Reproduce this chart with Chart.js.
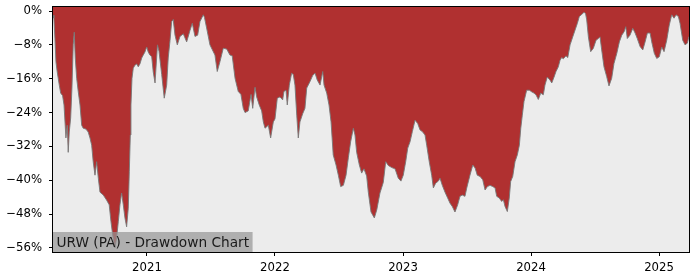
<!DOCTYPE html>
<html>
<head>
<meta charset="utf-8">
<script src="https://cdn.jsdelivr.net/npm/chart.js@4"></script>
<style>
  html, body { margin: 0; padding: 0; background: #fff; }
  canvas { display: block; }
</style>
</head>
<body>
<canvas id="ddChart" width="700" height="280"></canvas>
<script>
// dates as decimal years, drawdown in %
const dates = [
  2020.266, 2020.273, 2020.281, 2020.289, 2020.299, 2020.315, 2020.326, 2020.341, 2020.352, 2020.367,
  2020.377, 2020.385, 2020.393, 2020.404, 2020.414, 2020.424, 2020.432, 2020.440, 2020.451, 2020.463,
  2020.477, 2020.490, 2020.502, 2020.523, 2020.541, 2020.555, 2020.568, 2020.580, 2020.594, 2020.607,
  2020.620, 2020.633, 2020.659, 2020.685, 2020.705, 2020.719, 2020.732, 2020.750, 2020.763, 2020.776,
  2020.789, 2020.802, 2020.815, 2020.828, 2020.841, 2020.854, 2020.862, 2020.870, 2020.875, 2020.883,
  2020.893, 2020.906, 2020.920, 2020.932, 2020.945, 2020.959, 2020.971, 2020.984, 2020.998, 2021.010,
  2021.023, 2021.037, 2021.049, 2021.063, 2021.082, 2021.094, 2021.115, 2021.135, 2021.154, 2021.166,
  2021.180, 2021.193, 2021.205, 2021.219, 2021.237, 2021.258, 2021.284, 2021.310, 2021.336, 2021.354,
  2021.375, 2021.396, 2021.414, 2021.440, 2021.449, 2021.466, 2021.492, 2021.518, 2021.531, 2021.549,
  2021.570, 2021.596, 2021.623, 2021.648, 2021.666, 2021.688, 2021.713, 2021.734, 2021.752, 2021.766,
  2021.791, 2021.813, 2021.826, 2021.844, 2021.857, 2021.877, 2021.896, 2021.909, 2021.922, 2021.948,
  2021.966, 2021.987, 2022.000, 2022.018, 2022.039, 2022.060, 2022.070, 2022.086, 2022.096, 2022.112,
  2022.130, 2022.143, 2022.156, 2022.170, 2022.182, 2022.195, 2022.216, 2022.234, 2022.248, 2022.273,
  2022.295, 2022.313, 2022.330, 2022.352, 2022.373, 2022.383, 2022.404, 2022.422, 2022.438, 2022.455,
  2022.477, 2022.495, 2022.513, 2022.534, 2022.555, 2022.573, 2022.591, 2022.612, 2022.625, 2022.638,
  2022.659, 2022.677, 2022.695, 2022.716, 2022.729, 2022.750, 2022.776, 2022.795, 2022.820, 2022.846,
  2022.865, 2022.885, 2022.912, 2022.938, 2022.963, 2022.984, 2023.002, 2023.021, 2023.037, 2023.055,
  2023.073, 2023.094, 2023.115, 2023.133, 2023.151, 2023.172, 2023.185, 2023.205, 2023.224, 2023.237,
  2023.255, 2023.276, 2023.289, 2023.307, 2023.328, 2023.349, 2023.367, 2023.385, 2023.406, 2023.427,
  2023.445, 2023.463, 2023.484, 2023.498, 2023.523, 2023.545, 2023.563, 2023.580, 2023.602, 2023.623,
  2023.641, 2023.659, 2023.680, 2023.701, 2023.719, 2023.732, 2023.752, 2023.771, 2023.784, 2023.797,
  2023.815, 2023.830, 2023.841, 2023.857, 2023.875, 2023.893, 2023.909, 2023.920, 2023.932, 2023.945,
  2023.966, 2023.987, 2024.005, 2024.023, 2024.039, 2024.057, 2024.076, 2024.096, 2024.109, 2024.127,
  2024.148, 2024.162, 2024.180, 2024.195, 2024.213, 2024.227, 2024.240, 2024.252, 2024.273, 2024.287,
  2024.305, 2024.326, 2024.344, 2024.362, 2024.377, 2024.396, 2024.414, 2024.426, 2024.435, 2024.448,
  2024.466, 2024.487, 2024.508, 2024.526, 2024.539, 2024.552, 2024.570, 2024.591, 2024.609, 2024.630,
  2024.648, 2024.670, 2024.690, 2024.709, 2024.727, 2024.740, 2024.752, 2024.773, 2024.795, 2024.813,
  2024.830, 2024.852, 2024.873, 2024.891, 2024.909, 2024.930, 2024.943, 2024.963, 2024.982, 2025.002,
  2025.021, 2025.039, 2025.060, 2025.080, 2025.099, 2025.117, 2025.133, 2025.151, 2025.164, 2025.185,
  2025.203, 2025.221, 2025.234
];
const drawdown = [
  -1.0, -1.7, -6.4, -12.0, -14.4, -17.5, -19.4, -20.0, -22.2, -30.0,
  -27.0, -33.4, -28.6, -25.3, -18.2, -8.0, -5.0, -11.1, -15.9, -19.0,
  -22.2, -27.0, -27.7, -27.9, -28.6, -30.0, -31.7, -35.6, -38.8, -35.6,
  -39.5, -42.8, -43.5, -44.7, -45.8, -49.8, -52.9, -56.0, -53.6, -49.8,
  -45.8, -43.0, -45.8, -48.9, -51.0, -46.6, -38.0, -29.3, -22.2, -15.9,
  -13.5, -12.8, -12.5, -13.2, -12.5, -11.1, -10.4, -9.7, -8.5, -9.7,
  -10.4, -10.8, -14.4, -17.0, -8.0, -9.5, -15.0, -20.6, -17.5, -11.1,
  -7.0, -2.5, -2.0, -5.7, -8.0, -6.0, -5.4, -7.3, -4.6, -2.9,
  -6.0, -5.7, -2.5, -0.9, -1.5, -4.0, -8.0, -9.6, -10.4, -14.3,
  -12.0, -8.8, -9.0, -10.4, -10.6, -15.9, -19.0, -19.7, -23.0, -24.0,
  -23.6, -19.7, -23.0, -18.0, -20.3, -22.2, -23.6, -26.2, -27.7, -27.0,
  -30.0, -26.2, -25.5, -20.6, -20.3, -21.0, -19.0, -18.7, -22.2, -17.5,
  -14.7, -15.0, -17.5, -24.6, -30.0, -26.2, -24.3, -23.0, -18.2, -16.7,
  -15.2, -14.7, -16.3, -17.5, -14.3, -17.5, -19.4, -22.2, -26.2, -34.0,
  -36.4, -38.8, -41.5, -41.2, -38.8, -34.7, -30.9, -27.7, -29.3, -33.4,
  -36.4, -38.3, -37.3, -39.0, -42.8, -47.5, -48.9, -47.0, -43.0, -40.5,
  -35.6, -36.5, -37.0, -37.3, -39.5, -40.2, -38.8, -35.6, -32.4, -30.9,
  -28.5, -25.8, -26.6, -28.1, -28.5, -29.3, -31.7, -35.6, -38.8, -41.8,
  -40.7, -40.2, -39.5, -41.2, -42.8, -44.2, -45.4, -46.2, -47.5, -45.8,
  -43.8, -43.5, -43.8, -41.8, -38.8, -36.4, -37.1, -38.8, -39.1, -39.9,
  -42.3, -41.5, -41.2, -41.5, -41.8, -43.8, -44.2, -45.0, -44.6, -46.2,
  -47.4, -44.2, -40.3, -39.1, -35.6, -34.0, -31.7, -27.7, -24.6, -21.4,
  -18.7, -18.7, -19.1, -19.4, -19.8, -20.9, -19.4, -19.8, -17.5, -15.6,
  -16.3, -17.0, -15.6, -14.3, -13.2, -11.6, -11.0, -11.3, -10.6, -11.0,
  -8.0, -6.1, -4.5, -2.9, -1.3, -0.8, -0.3, -0.6, -2.1, -6.1,
  -9.6, -8.8, -6.9, -6.5, -6.1, -9.2, -13.2, -15.5, -17.7, -15.9,
  -12.4, -10.0, -7.3, -5.7, -4.9, -3.7, -6.5, -5.7, -4.1, -5.2,
  -6.5, -8.4, -9.2, -7.3, -5.2, -5.2, -7.3, -10.0, -11.2, -10.8,
  -8.5, -9.6, -6.9, -3.3, -0.9, -1.7, -0.9, -1.3, -2.9, -6.9,
  -8.0, -7.6, -6.0
];
const yTicks = [0, -8, -16, -24, -32, -40, -48, -56];
const xTicks = [2021, 2022, 2023, 2024, 2025];
const chartTitle = 'URW (PA) - Drawdown Chart';

const font = { family: 'DejaVu Sans', size: 11.7 };

const framePlugin = {
    id: 'frame',
    beforeDraw(chart) {
        const { ctx, chartArea: a } = chart;
        ctx.save();
        ctx.fillStyle = '#ececec';
        ctx.fillRect(a.left, a.top, a.right - a.left, a.bottom - a.top);
        ctx.restore();
    },
    afterDraw(chart) {
        const { ctx, chartArea: a } = chart;
        ctx.save();
        // title box, bottom left
        ctx.font = '13.7px "DejaVu Sans"';
        const w = ctx.measureText(chartTitle).width;
        ctx.fillStyle = 'rgba(150,150,150,0.7)';
        ctx.fillRect(a.left, a.bottom - 20, w + 7, 20);
        ctx.fillStyle = '#1a1a1a';
        ctx.textBaseline = 'alphabetic';
        ctx.fillText(chartTitle, a.left + 3.5, a.bottom - 5.5);
        // axes box
        ctx.strokeStyle = '#000';
        ctx.lineWidth = 1;
        ctx.strokeRect(a.left - 0.5, a.top - 0.5, a.right - a.left + 1, a.bottom - a.top + 1);
        ctx.restore();
    }
};

const noPad = s => { s.paddingTop = 0; s.paddingBottom = 0; s.paddingLeft = 0; s.paddingRight = 0; };

const ctx = document.getElementById('ddChart').getContext('2d');
new Chart(ctx, {
    type: 'line',
    data: {
        datasets: [{
            label: 'Drawdown',
            data: dates.map((d, i) => ({ x: d, y: drawdown[i] })),
            borderColor: 'rgba(120,120,120,0.9)',
            backgroundColor: '#b03030',
            borderWidth: 1,
            pointRadius: 0,
            tension: 0,
            fill: 'end',
        }]
    },
    options: {
        responsive: false,
        animation: false,
        devicePixelRatio: 1,
        layout: { padding: { left: 0, right: 11, top: 7, bottom: 0 } },
        plugins: { legend: { display: false }, tooltip: { enabled: false } },
        scales: {
            x: {
                type: 'linear',
                min: dates[0],
                max: dates[dates.length - 1],
                grid: { display: true, drawOnChartArea: false, tickLength: 4, color: '#000' },
                border: { display: false },
                ticks: { font: font, color: '#000', padding: 5, maxRotation: 0, autoSkip: false,
                    callback: v => String(v) },
                afterBuildTicks: s => { s.ticks = xTicks.map(v => ({ value: v })); },
                afterFit: s => { s.height = 28; noPad(s); }
            },
            y: {
                type: 'linear',
                min: -56.95,
                max: 0.95,
                grid: { display: true, drawOnChartArea: false, tickLength: 4, color: '#000' },
                border: { display: false },
                ticks: { font: font, color: '#000', padding: 7, autoSkip: false,
                    callback: v => (v < 0 ? '\u2212' + Math.abs(v) : v) + '%' },
                afterBuildTicks: s => { s.ticks = yTicks.map(v => ({ value: v })); },
                afterFit: s => { s.width = 53; noPad(s); }
            }
        }
    },
    plugins: [framePlugin]
});
</script>
</body>
</html>
